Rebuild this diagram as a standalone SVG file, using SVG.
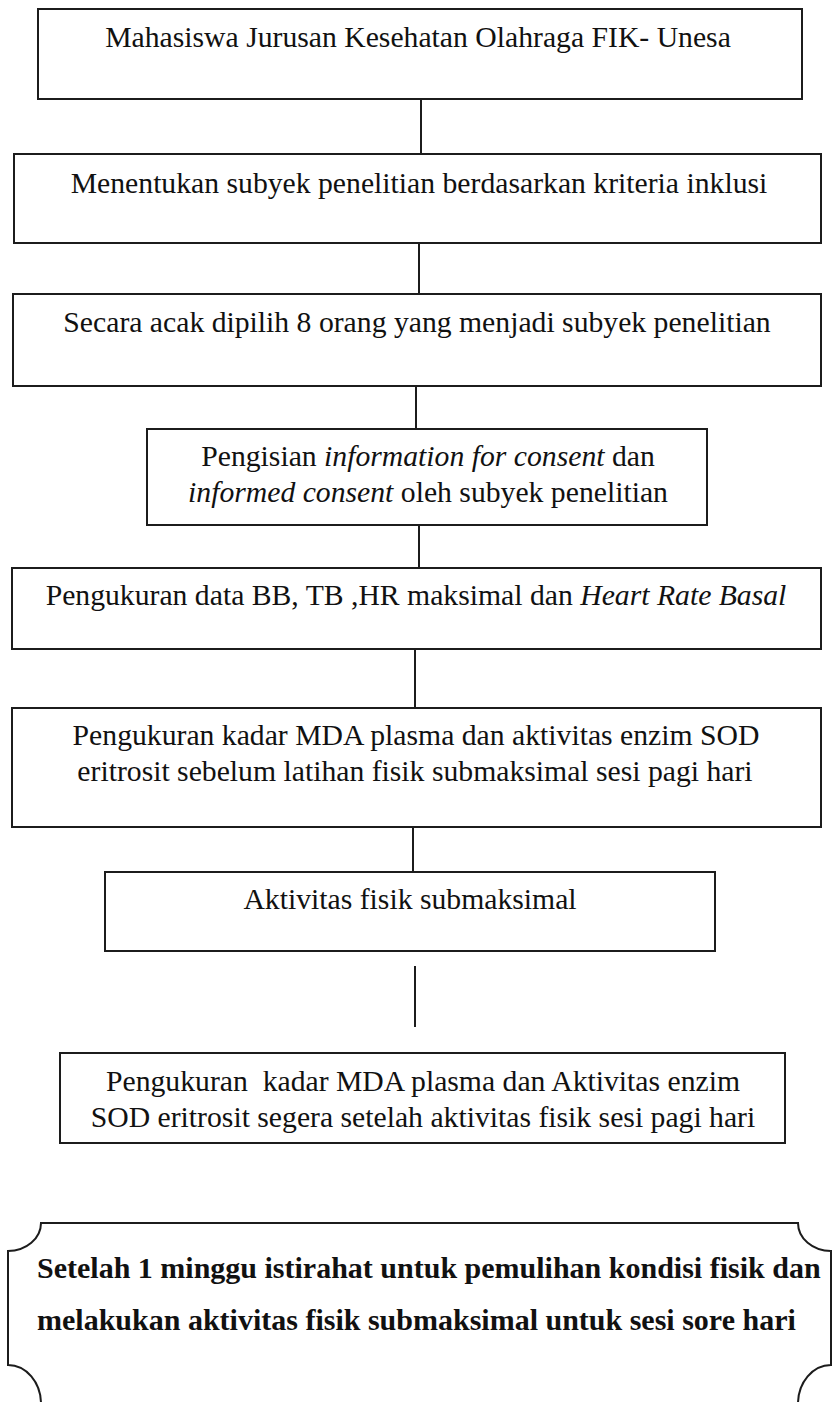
<svg xmlns="http://www.w3.org/2000/svg" width="832" height="1402" viewBox="0 0 832 1402">
<style>
.box{fill:none;stroke:#1c1c1c;stroke-width:2}
.con{stroke:#1c1c1c;stroke-width:2;fill:none}
.t{font-family:"Liberation Serif","Times New Roman",serif;font-size:29.7px;fill:#111;text-anchor:middle}
.i{font-style:italic}
.b{font-family:"Liberation Serif","Times New Roman",serif;font-size:30px;font-weight:bold;fill:#111}
</style>
<rect width="832" height="1402" fill="#fff"/>
<g id="connectors">
<line class="con" x1="421" y1="99" x2="421" y2="154"/>
<line class="con" x1="419" y1="243" x2="419" y2="294"/>
<line class="con" x1="416" y1="386" x2="416" y2="429"/>
<line class="con" x1="419" y1="525" x2="419" y2="568"/>
<line class="con" x1="415" y1="649" x2="415" y2="708"/>
<line class="con" x1="413" y1="827" x2="413" y2="872"/>
<line class="con" x1="415" y1="966" x2="415" y2="1027"/>
</g>
<g id="n1">
<rect class="box" x="38" y="9" width="764" height="90"/>
<text class="t" x="418" y="47">Mahasiswa Jurusan Kesehatan Olahraga FIK- Unesa</text>
</g>
<g id="n2">
<rect class="box" x="14" y="154" width="807" height="89"/>
<text class="t" x="419" y="193">Menentukan subyek penelitian berdasarkan kriteria inklusi</text>
</g>
<g id="n3">
<rect class="box" x="13" y="294" width="808" height="92"/>
<text class="t" x="417" y="332">Secara acak dipilih 8 orang yang menjadi subyek penelitian</text>
</g>
<g id="n4">
<rect class="box" x="147" y="429" width="560" height="96"/>
<text class="t" x="428" y="466">Pengisian <tspan class="i">information for consent</tspan> dan</text>
<text class="t" x="428" y="502"><tspan class="i">informed consent</tspan> oleh subyek penelitian</text>
</g>
<g id="n5">
<rect class="box" x="12" y="568" width="809" height="81"/>
<text class="t" x="416" y="605">Pengukuran data BB, TB ,HR maksimal dan <tspan class="i">Heart Rate Basal</tspan></text>
</g>
<g id="n6">
<rect class="box" x="12" y="708" width="809" height="119"/>
<text class="t" x="416" y="745">Pengukuran kadar MDA plasma dan aktivitas enzim SOD</text>
<text class="t" x="415" y="781">eritrosit sebelum latihan fisik submaksimal sesi pagi hari</text>
</g>
<g id="n7">
<rect class="box" x="105" y="872" width="610" height="79"/>
<text class="t" x="410" y="909">Aktivitas fisik submaksimal</text>
</g>
<g id="n8">
<rect class="box" x="60" y="1053" width="725" height="90"/>
<text class="t" x="423" y="1091" xml:space="preserve">Pengukuran  kadar MDA plasma dan Aktivitas enzim</text>
<text class="t" x="423" y="1127">SOD eritrosit segera setelah aktivitas fisik sesi pagi hari</text>
</g>
<g id="n9">
<path class="box" d="M41,1223 H798 A33,28 0 0 0 831,1251 V1365 A33,39 0 0 0 798,1404 H41 A33,39 0 0 0 8,1365 V1251 A33,28 0 0 0 41,1223 Z"/>
<text class="b" x="37" y="1278">Setelah 1 minggu istirahat untuk pemulihan kondisi fisik dan</text>
<text class="b" x="37" y="1330">melakukan aktivitas fisik submaksimal untuk sesi sore hari</text>
</g>
</svg>
